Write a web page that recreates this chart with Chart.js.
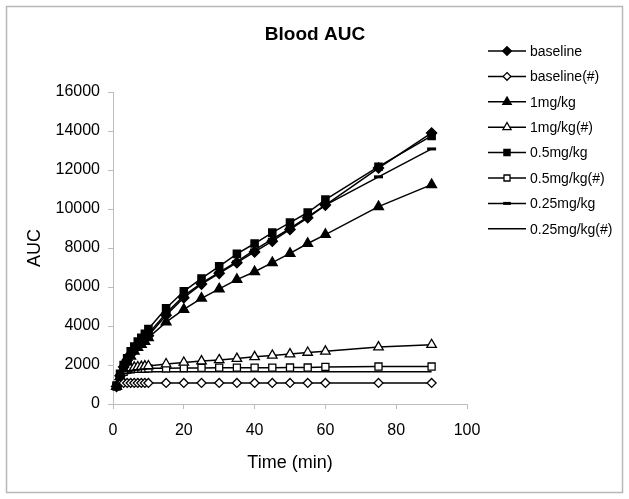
<!DOCTYPE html>
<html>
<head>
<meta charset="utf-8">
<script src="https://cdn.jsdelivr.net/npm/chart.js@4/dist/chart.umd.min.js"></script>
<style>
  html, body { margin: 0; padding: 0; background: #ffffff; }
  canvas { display: block; }
</style>
</head>
<body>
<canvas id="c" width="629" height="499"></canvas>
<script>
// ---- Data ----
const timeMin = [1,2,3,4,5,6,7,8,9,10,15,20,25,30,35,40,45,50,55,60,75,90];

const baseline      = [900,1450,1900,2250,2550,2800,3000,3200,3350,3500,4550,5450,6150,6700,7250,7800,8350,8950,9550,10200,12100,13900];
const baselineHash  = [900,1050,1080,1080,1080,1080,1080,1080,1080,1080,1080,1080,1080,1080,1080,1080,1080,1080,1080,1080,1080,1080];
const mg1           = [900,1400,1800,2150,2450,2700,2900,3050,3200,3400,4200,4850,5420,5900,6380,6780,7250,7720,8230,8690,10120,11250];
const mg1Hash       = [900,1400,1700,1800,1850,1880,1900,1920,1940,1950,2050,2130,2200,2260,2330,2420,2490,2560,2640,2700,2920,3040];
const mg05          = [950,1550,2000,2350,2700,2950,3200,3400,3600,3850,4910,5780,6440,7060,7700,8230,8790,9300,9820,10480,12170,13750];
const mg05Hash      = [900,1400,1650,1750,1780,1800,1800,1810,1820,1830,1830,1840,1850,1860,1860,1860,1860,1870,1870,1900,1920,1920];
const mg025         = [900,1450,1900,2250,2550,2800,3050,3250,3400,3600,4650,5550,6200,6750,7300,7900,8450,9000,9600,10200,11650,13080];
const mg025Hash     = [900,1300,1550,1620,1640,1650,1650,1650,1650,1650,1650,1650,1650,1650,1650,1650,1650,1650,1650,1650,1650,1650];

const seriesNames = ['baseline','baseline(#)','1mg/kg','1mg/kg(#)','0.5mg/kg','0.5mg/kg(#)','0.25mg/kg','0.25mg/kg(#)'];
const seriesValues = [baseline, baselineHash, mg1, mg1Hash, mg05, mg05Hash, mg025, mg025Hash];

const xTicks = [0,20,40,60,80,100];
const yTicks = [0,2000,4000,6000,8000,10000,12000,14000,16000];

const chartTitle = 'Blood AUC';
const xTitle = 'Time (min)';
const yTitle = 'AUC';

// ---- Styles ----
const FONT = "'Liberation Sans', Arial, sans-serif";
const AXIS_GREY = '#bdbdbd';
const markerStyles = [
  {style:'rectRot',  r:5,   fill:'#000', w:1.5},
  {style:'rectRot',  r:4.5, fill:'#fff', w:1.3},
  {style:'triangle', r:5.5, fill:'#000', w:1.5},
  {style:'triangle', r:5.5, fill:'#fff', w:1.3},
  {style:'rect',     r:5,   fill:'#000', w:1.5},
  {style:'rect',     r:5,   fill:'#fff', w:1.3},
  {style:'line',     r:4.5, fill:'#000', w:3},
  {style:false,      r:0,   fill:'#000', w:1.5}
];

const datasets = seriesNames.map((name, i) => ({
  label: name,
  data: timeMin.map((t, k) => ({x: t, y: seriesValues[i][k]})),
  borderColor: '#000',
  borderWidth: 1.5,
  backgroundColor: markerStyles[i].fill,
  pointStyle: markerStyles[i].style || 'circle',
  pointRadius: markerStyles[i].r,
  pointHoverRadius: markerStyles[i].r,
  pointBackgroundColor: markerStyles[i].fill,
  pointBorderColor: '#000',
  pointBorderWidth: markerStyles[i].w,
  tension: 0,
  fill: false,
  clip: false
}));

function drawMarker(ctx, m, x, y) {
  if (!m.style) return;
  const r = m.r * 0.85;
  ctx.save();
  ctx.lineWidth = m.w;
  ctx.strokeStyle = '#000';
  ctx.fillStyle = m.fill;
  ctx.beginPath();
  if (m.style === 'rectRot') {
    ctx.moveTo(x, y - r); ctx.lineTo(x + r, y); ctx.lineTo(x, y + r); ctx.lineTo(x - r, y); ctx.closePath();
    ctx.fill(); ctx.stroke();
  } else if (m.style === 'rect') {
    const s = r * Math.SQRT1_2;
    ctx.rect(x - s, y - s, 2 * s, 2 * s);
    ctx.fill(); ctx.stroke();
  } else if (m.style === 'triangle') {
    ctx.moveTo(x, y - r);
    ctx.lineTo(x + r * Math.sin(Math.PI / 3), y + r * 0.5);
    ctx.lineTo(x - r * Math.sin(Math.PI / 3), y + r * 0.5);
    ctx.closePath();
    ctx.fill(); ctx.stroke();
  } else if (m.style === 'line') {
    ctx.moveTo(x - r, y); ctx.lineTo(x + r, y); ctx.stroke();
  }
  ctx.restore();
}

const decorPlugin = {
  id: 'decor',
  beforeDraw(chart) {
    const ctx = chart.ctx;
    ctx.save();
    ctx.fillStyle = '#fff';
    ctx.fillRect(0, 0, chart.width, chart.height);
    ctx.strokeStyle = '#b8b8b8';
    ctx.lineWidth = 1.5;
    ctx.strokeRect(6.5, 6.5, 616, 486);
    ctx.restore();
  },
  afterDraw(chart) {
    const ctx = chart.ctx;
    ctx.save();
    // title
    ctx.fillStyle = '#000';
    ctx.font = 'bold 19px ' + FONT;
    ctx.textAlign = 'center';
    ctx.textBaseline = 'middle';
    ctx.fillText(chartTitle, 315, 35);
    // legend
    ctx.font = '14px ' + FONT;
    ctx.textAlign = 'left';
    chart.data.datasets.forEach((ds, i) => {
      const y = 51 + i * 25.4;
      ctx.strokeStyle = '#000';
      ctx.lineWidth = 1.5;
      ctx.beginPath();
      ctx.moveTo(488, y); ctx.lineTo(526, y); ctx.stroke();
      drawMarker(ctx, markerStyles[i], 507, y);
      ctx.fillStyle = '#000';
      ctx.fillText(ds.label, 530, y + 1);
    });
    ctx.restore();
  }
};

new Chart(document.getElementById('c'), {
  type: 'line',
  data: { datasets },
  plugins: [decorPlugin],
  options: {
    responsive: false,
    devicePixelRatio: 1,
    animation: false,
    events: [],
    layout: { padding: { left: 0, top: 92, right: 162, bottom: 0 } },
    plugins: {
      legend: { display: false },
      title: { display: false },
      tooltip: { enabled: false }
    },
    scales: {
      x: {
        type: 'linear',
        min: 0, max: 100,
        afterFit: s => { s.height = 95; },
        afterBuildTicks: s => { s.ticks = xTicks.map(v => ({value: v})); },
        ticks: { color: '#000', font: { family: FONT, size: 16 }, padding: 12, maxRotation: 0, callback: v => String(v) },
        grid: { display: true, drawOnChartArea: false, drawTicks: true, tickLength: 5, tickColor: AXIS_GREY, color: AXIS_GREY },
        border: { display: true, color: AXIS_GREY, width: 1 },
        title: { display: true, text: xTitle, color: '#000', font: { family: FONT, size: 18 }, padding: { top: 0, bottom: 25 } }
      },
      y: {
        type: 'linear',
        min: 0, max: 16000,
        afterFit: s => { s.width = 113; },
        afterBuildTicks: s => { s.ticks = yTicks.map(v => ({value: v})); },
        ticks: { color: '#000', font: { family: FONT, size: 16 }, padding: 8, callback: v => String(v) },
        grid: { display: true, drawOnChartArea: false, drawTicks: true, tickLength: 5, tickColor: AXIS_GREY, color: AXIS_GREY },
        border: { display: true, color: AXIS_GREY, width: 1 },
        title: { display: true, text: yTitle, color: '#000', font: { family: FONT, size: 18 }, padding: { top: 24, bottom: 0 } }
      }
    }
  }
});
</script>
</body>
</html>
